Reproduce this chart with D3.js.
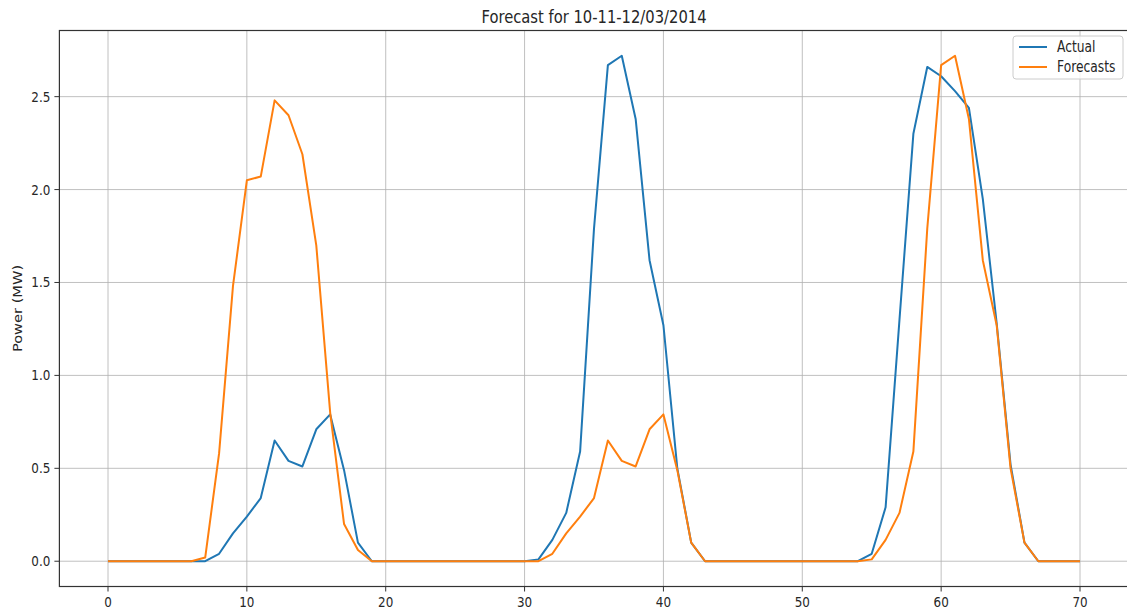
<!DOCTYPE html>
<html>
<head>
    <style>
        body { margin: 0; background: #fff; }
        svg text { font-family: "DejaVu Sans", sans-serif; fill: #262626; }
        .grid line { stroke: #b0b0b0; stroke-width: 0.8; }
        .series { fill: none; stroke-width: 2; stroke-linejoin: round; }
    </style>
    <script src="https://d3js.org/d3.v7.min.js"></script>
</head>
<body>
    <svg width="1127" height="610"></svg>
    <script>
        // values, one per hour step
        var hours = d3.range(0, 71);
        var actual = [0, 0, 0, 0, 0, 0, 0, 0, 0.04, 0.15, 0.24, 0.34, 0.65, 0.54, 0.51, 0.71, 0.79, 0.49, 0.10, 0,
                      0, 0, 0, 0, 0, 0, 0, 0, 0, 0, 0, 0.01, 0.115, 0.26, 0.59, 1.79, 2.67, 2.72, 2.38, 1.62,
                      1.27, 0.50, 0.10, 0, 0, 0, 0, 0, 0, 0, 0, 0, 0, 0, 0, 0.04, 0.29, 1.30, 2.30, 2.66,
                      2.61, 2.53, 2.44, 1.95, 1.28, 0.52, 0.10, 0, 0, 0, 0];
        var forecasts = [0, 0, 0, 0, 0, 0, 0, 0.02, 0.58, 1.48, 2.05, 2.07, 2.48, 2.40, 2.19, 1.70, 0.80, 0.20, 0.06, 0,
                         0, 0, 0, 0, 0, 0, 0, 0, 0, 0, 0, 0, 0.04, 0.15, 0.24, 0.34, 0.65, 0.54, 0.51, 0.71,
                         0.79, 0.49, 0.10, 0, 0, 0, 0, 0, 0, 0, 0, 0, 0, 0, 0, 0.01, 0.115, 0.26, 0.59, 1.79,
                         2.67, 2.72, 2.38, 1.62, 1.27, 0.50, 0.10, 0, 0, 0, 0];
        var seriesNames = ["Actual", "Forecasts"];
        var colors = ["#1f77b4", "#ff7f0e"];
        var xTicks = [0, 10, 20, 30, 40, 50, 60, 70];
        var yTicks = [0, 0.5, 1.0, 1.5, 2.0, 2.5];
        var title = "Forecast for 10-11-12/03/2014";
        var yLabel = "Power (MW)";

        var svg = d3.select("svg");
        var pLeft = 59.4, pRight = 1128.6, pTop = 30.5, pBottom = 586.5;
        var squish = "scale(0.82,1)";   // the reference is narrowed horizontally

        var xMin = 0, xMax = 70, xPad = (xMax - xMin) * 0.05;
        var yMax = d3.max(actual.concat(forecasts)), yPad = yMax * 0.05;
        var x = d3.scaleLinear().domain([xMin - xPad, xMax + xPad]).range([pLeft, pRight]);
        var y = d3.scaleLinear().domain([-yPad, yMax + yPad]).range([pBottom, pTop]);

        // grid
        var grid = svg.append("g").attr("class", "grid");
        grid.selectAll(".vx").data(xTicks).enter().append("line")
            .attr("x1", function(d){ return x(d); }).attr("x2", function(d){ return x(d); })
            .attr("y1", pTop).attr("y2", pBottom);
        grid.selectAll(".hy").data(yTicks).enter().append("line")
            .attr("y1", function(d){ return y(d); }).attr("y2", function(d){ return y(d); })
            .attr("x1", pLeft).attr("x2", pRight);

        // lines
        var rows = [actual, forecasts];
        var line = d3.line().x(function(d, i){ return x(hours[i]); }).y(function(d){ return y(d); });
        svg.selectAll(".series").data(rows).enter().append("path")
            .attr("class", "series")
            .attr("stroke", function(d, i){ return colors[i]; })
            .attr("d", line);

        // axes frame
        svg.append("rect").attr("x", pLeft).attr("y", pTop)
            .attr("width", pRight - pLeft).attr("height", pBottom - pTop)
            .attr("fill", "none").attr("stroke", "#333").attr("stroke-width", 1.2);

        // x ticks
        var xt = svg.append("g").selectAll("g").data(xTicks).enter().append("g");
        xt.append("line").attr("x1", function(d){ return x(d); }).attr("x2", function(d){ return x(d); })
            .attr("y1", pBottom).attr("y2", pBottom + 5).attr("stroke", "#333").attr("stroke-width", 1);
        xt.append("text")
            .attr("transform", function(d){ return "translate(" + x(d) + "," + (pBottom + 20) + ") " + squish; })
            .attr("text-anchor", "middle").style("font-size", "14.6px")
            .text(function(d){ return d; });

        // y ticks
        var yt = svg.append("g").selectAll("g").data(yTicks).enter().append("g");
        yt.append("line").attr("y1", function(d){ return y(d); }).attr("y2", function(d){ return y(d); })
            .attr("x1", pLeft - 5).attr("x2", pLeft).attr("stroke", "#333").attr("stroke-width", 1);
        yt.append("text")
            .attr("transform", function(d){ return "translate(" + (pLeft - 9) + "," + (y(d) + 5) + ") " + squish; })
            .attr("text-anchor", "end").style("font-size", "14.6px")
            .text(function(d){ return d3.format(".1f")(d); });

        // title and label
        svg.append("text")
            .attr("transform", "translate(" + ((pLeft + pRight) / 2) + ",23) " + squish)
            .attr("text-anchor", "middle").style("font-size", "18px")
            .text(title);
        svg.append("text")
            .attr("transform", "translate(22," + ((pTop + pBottom) / 2) + ") " + squish + " rotate(-90)")
            .attr("text-anchor", "middle").style("font-size", "14.6px")
            .text(yLabel);

        // legend
        var lg = svg.append("g").attr("transform", "translate(1013,36)");
        lg.append("rect").attr("width", 110).attr("height", 43).attr("rx", 3)
            .attr("fill", "#fff").attr("fill-opacity", 0.8).attr("stroke", "#ccc");
        var item = lg.selectAll(".item").data(seriesNames).enter().append("g")
            .attr("transform", function(d, i){ return "translate(0," + (11 + i * 20) + ")"; });
        item.append("line").attr("x1", 6).attr("x2", 34).attr("y1", 0).attr("y2", 0)
            .attr("stroke", function(d, i){ return colors[i]; }).attr("stroke-width", 2);
        item.append("text").attr("transform", "translate(44,5) " + squish)
            .style("font-size", "15px").text(function(d){ return d; });
    </script>
</body>
</html>
